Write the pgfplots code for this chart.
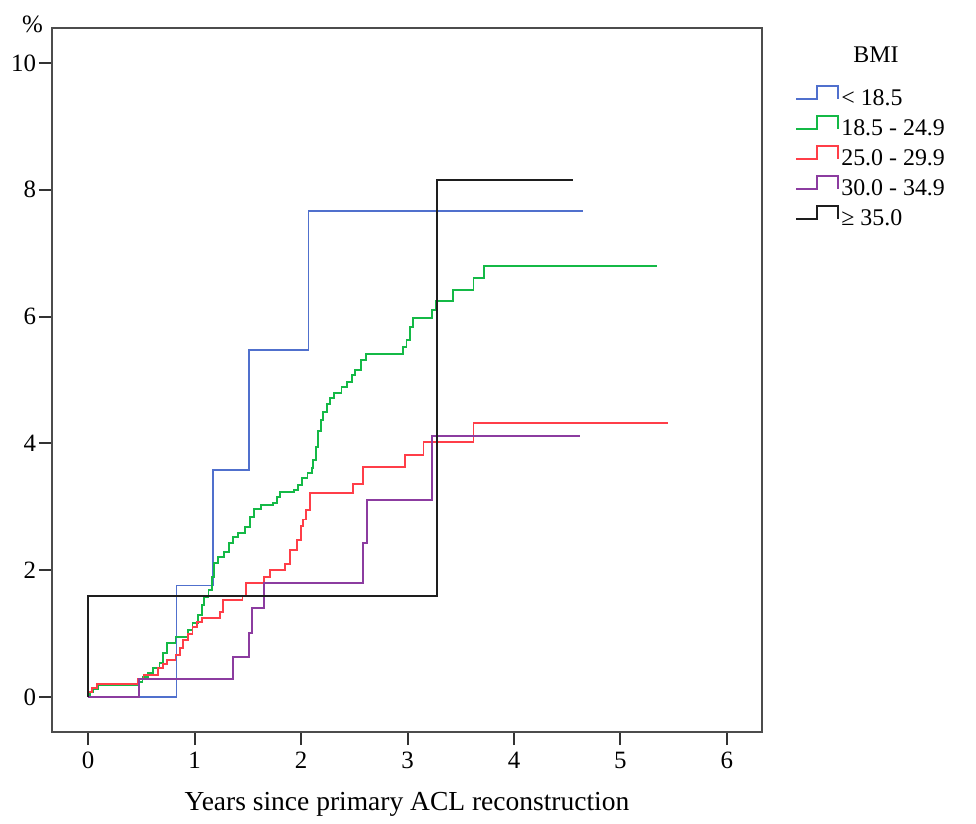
\documentclass[border=0pt]{standalone}
\usepackage{fontspec}
\setmainfont{Liberation Serif}
\usepackage{pgfplots}
\pgfplotsset{compat=1.18}

\definecolor{cblue}{RGB}{80,112,205}
\definecolor{cgreen}{RGB}{20,185,70}
\definecolor{cred}{RGB}{255,62,72}
\definecolor{cpurple}{RGB}{140,60,160}
\definecolor{cblack}{RGB}{30,30,30}

\pgfplotsset{
  steplegend/.style={legend image code/.code={
    \draw[##1] (0bp,0bp) -- (10.5bp,0bp) -- (10.5bp,6.5bp) -- (21bp,6.5bp) -- (21bp,0bp);}},
}

\begin{document}
\begin{tikzpicture}
\path (-26bp,-46bp) rectangle (462bp,366bp);
\begin{axis}[
  at={(0,0)}, anchor=south west,
  scale only axis, width=355bp, height=352bp,
  xmin=-0.34, xmax=6.33, ymin=-0.55, ymax=10.55,
  xtick={0,1,...,6}, ytick={0,2,...,10},
  xtick pos=lower, ytick pos=left,
  tick align=outside, major tick length=6.5bp,
  axis line style={draw=black!70, line width=1bp},
  tick style={draw=black!80, line width=1bp},
  /pgf/number format/assume math mode=true,
  ticklabel style={font=\fontsize{12.5}{15}\selectfont},
  yticklabel style={xshift=2bp},
  xlabel={Years since primary ACL reconstruction},
  xlabel style={font=\fontsize{13.8}{16}\selectfont, at={(axis description cs:0.5,0)}, anchor=base, yshift=-39bp},
  const plot,
  every axis plot/.append style={line width=0.95bp},
  steplegend,
  legend style={draw=none, fill=none, inner sep=0pt, row sep=0pt,
    at={(rel axis cs:1.0465,0.9205)}, anchor=north west,
    nodes={font=\fontsize{12}{14}\selectfont, inner xsep=1bp, inner ysep=2.5bp, text height=8bp, text depth=2bp}},
  legend cell align=left,
  clip=false,
]
% < 18.5
\addplot[cblue] coordinates {(0,0) (0.83,1.76) (1.17,3.58) (1.51,5.47) (2.07,7.67) (4.65,7.67)};
\addlegendentry{< 18.5}
% 18.5 - 24.9
\addplot[cgreen] coordinates {
(0,0) (0.02,0.08) (0.05,0.13) (0.09,0.19) (0.48,0.24) (0.51,0.32) (0.56,0.38)
(0.61,0.46) (0.67,0.54) (0.70,0.69) (0.74,0.85) (0.82,0.95) (0.94,1.06) (0.98,1.17)
(1.03,1.30) (1.07,1.45) (1.09,1.58) (1.13,1.69) (1.16,1.90) (1.18,2.11) (1.22,2.21)
(1.28,2.29) (1.32,2.43) (1.36,2.52) (1.41,2.59) (1.47,2.68) (1.52,2.84) (1.56,2.97)
(1.62,3.03) (1.74,3.06) (1.77,3.15) (1.80,3.23) (1.93,3.26) (1.97,3.34) (2.01,3.45)
(2.06,3.53) (2.10,3.61) (2.11,3.74) (2.14,3.94) (2.16,4.20) (2.19,4.37) (2.21,4.50)
(2.24,4.62) (2.27,4.72) (2.31,4.80) (2.38,4.89) (2.43,4.97) (2.48,5.08) (2.51,5.16)
(2.56,5.32) (2.61,5.41) (2.96,5.52) (2.99,5.63) (3.02,5.84) (3.05,5.98) (3.23,6.10)
(3.27,6.25) (3.43,6.42) (3.62,6.61) (3.72,6.80) (5.34,6.80)};
\addlegendentry{18.5 - 24.9}
% 25.0 - 29.9
\addplot[cred] coordinates {
(0,0) (0,0.08) (0.04,0.14) (0.08,0.20) (0.47,0.28) (0.52,0.35) (0.66,0.46)
(0.70,0.52) (0.74,0.58) (0.82,0.66) (0.86,0.77) (0.89,0.90) (0.94,1.00) (0.98,1.10)
(1.02,1.18) (1.07,1.25) (1.24,1.34) (1.27,1.53) (1.45,1.60) (1.48,1.80) (1.65,1.90)
(1.71,2.00) (1.85,2.10) (1.90,2.32) (1.96,2.48) (2.00,2.70) (2.02,2.80) (2.05,2.95)
(2.08,3.22) (2.49,3.36) (2.58,3.63) (2.98,3.82) (3.15,4.02) (3.62,4.32) (5.45,4.32)};
\addlegendentry{25.0 - 29.9}
% 30.0 - 34.9
\addplot[cpurple] coordinates {
(0,0) (0.48,0.28) (1.36,0.63) (1.51,1.01) (1.54,1.40) (1.65,1.80) (2.58,2.43)
(2.62,3.11) (3.23,4.12) (4.62,4.12)};
\addlegendentry{30.0 - 34.9}
% >= 35.0
\addplot[cblack] coordinates {(0,0) (0,1.59) (3.28,8.15) (4.55,8.15)};
\addlegendentry{≥ 35.0}

\node[font=\fontsize{12}{14}\selectfont, anchor=base] at ([xshift=412bp,yshift=-17.5bp]rel axis cs:0,1) {BMI};
\node[font=\fontsize{12.5}{15}\selectfont, anchor=base] at ([xshift=-9.75bp,yshift=-2.5bp]rel axis cs:0,1) {\%};
\end{axis}
\end{tikzpicture}
\end{document}
